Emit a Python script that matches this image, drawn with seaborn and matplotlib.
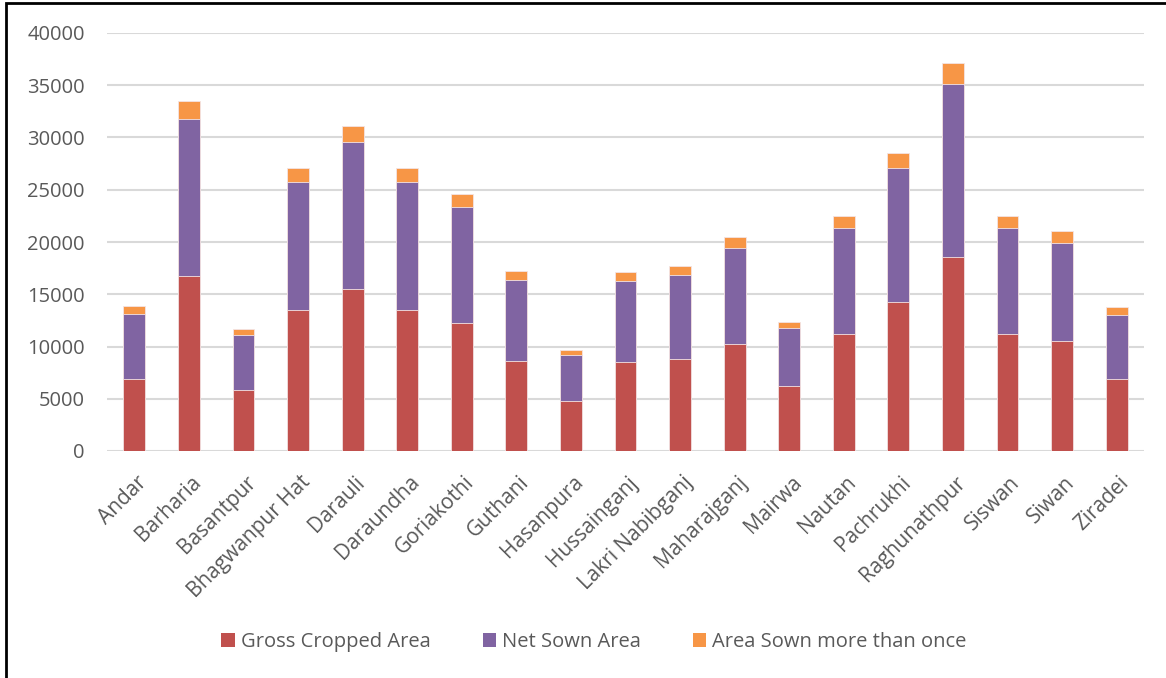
import matplotlib
matplotlib.use("Agg")
import matplotlib.pyplot as plt
from matplotlib.patches import Rectangle, Patch
from matplotlib.transforms import ScaledTranslation
import seaborn as sns
import pandas as pd
import numpy as np

blocks = ["Andar", "Barharia", "Basantpur", "Bhagwanpur Hat", "Darauli", "Daraundha",
          "Goriakothi", "Guthani", "Hasanpura", "Hussainganj", "Lakri Nabibganj",
          "Maharajganj", "Mairwa", "Nautan", "Pachrukhi", "Raghunathpur", "Siswan",
          "Siwan", "Ziradei"]
gross_cropped = [6930, 16760, 5880, 13540, 15550, 13540, 12295, 8655, 4825, 8560, 8845,
                 10280, 6195, 11240, 14270, 18520, 11240, 10505, 6865]
net_sown = [6190, 15040, 5265, 12220, 14010, 12160, 11075, 7725, 4340, 7690, 7980,
            9190, 5555, 10115, 12830, 16625, 10055, 9385, 6160]
sown_more_than_once = [740, 1690, 575, 1340, 1530, 1340, 1210, 890, 475, 860, 895,
                       1020, 640, 1120, 1440, 1955, 1150, 1150, 735]

series = ["Gross Cropped Area", "Net Sown Area", "Area Sown more than once"]
colors = ["#C0504D", "#8064A2", "#F79646"]

df = pd.DataFrame({"block": blocks, series[0]: gross_cropped,
                   series[1]: net_sown, series[2]: sown_more_than_once})
# cumulative heights for stacking
df["c0"] = df[series[0]]
df["c1"] = df["c0"] + df[series[1]]
df["c2"] = df["c1"] + df[series[2]]

sns.set_theme(style="white")
plt.rcParams["font.family"] = ["Open Sans", "DejaVu Sans"]
text_color = "#595959"
fs = 14.5

fig = plt.figure(figsize=(11.66, 6.78), dpi=100)
ax = fig.add_axes([107 / 1166, 1 - 451 / 678, (1144 - 107) / 1166, (451 - 33) / 678])

for col, color in zip(["c2", "c1", "c0"], colors[::-1]):
    sns.barplot(data=df, x="block", y=col, color=color, width=0.40, ax=ax,
                saturation=1, edgecolor="#f4e4e4", linewidth=0.6, zorder=3)

ax.set_ylim(0, 40000)
ax.set_yticks(np.arange(0, 40001, 5000))
ax.set_xlim(-0.5, len(blocks) - 0.5)
ax.set_xlabel("")
ax.set_ylabel("")
ax.yaxis.grid(True, color="#d9d9d9", linewidth=1.5, zorder=0)
ax.set_axisbelow(True)
for s in ax.spines.values():
    s.set_visible(False)
ax.tick_params(axis="y", labelsize=fs, labelcolor=text_color, length=0, pad=16)
ax.tick_params(axis="x", labelsize=15, labelcolor=text_color, length=0, pad=15)
for lbl in ax.get_xticklabels():
    lbl.set_rotation(45)
    lbl.set_ha("right")
    lbl.set_rotation_mode("anchor")
    lbl.set_transform(lbl.get_transform() + ScaledTranslation(2 / 100, 0, fig.dpi_scale_trans))

handles = [Patch(facecolor=c, edgecolor="none") for c in colors]
fig.legend(handles, series, loc="center", bbox_to_anchor=(594 / 1166, 1 - 642 / 678),
           ncol=3, frameon=False, fontsize=fs, labelcolor=text_color,
           handlelength=0.65, handleheight=0.65, handletextpad=0.3, columnspacing=2.6)

fig.patches.append(Rectangle((6 / 1166, -0.05), 1.2, 1 - 3.5 / 678 + 0.05,
                             transform=fig.transFigure, fill=False,
                             edgecolor="black", linewidth=2))

fig.savefig("out.png", dpi=100)
